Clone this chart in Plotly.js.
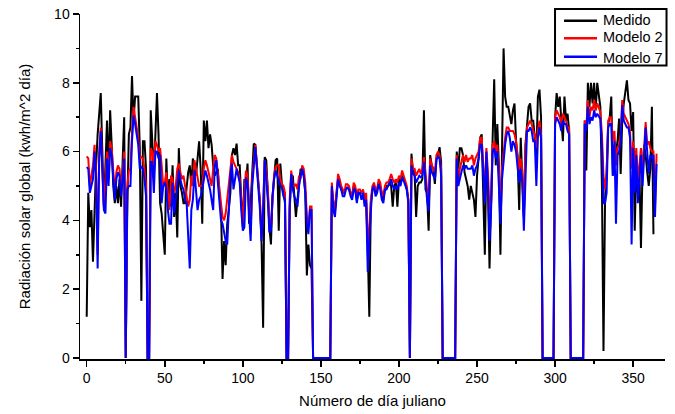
<!DOCTYPE html>
<html>
<head>
<meta charset="utf-8">
<script src="https://cdn.plot.ly/plotly-3.0.1.min.js"></script>
<style>html,body{margin:0;padding:0;background:#fff;}#chart{width:675px;height:414px;}</style>
</head>
<body>
<div id="chart"></div>
<script>
// Day of year (0..365)
const days = Array.from({length: 366}, (_, i) => i);

// Medido (measured)
const medido = [
1.2,4.8,3.8,4.3,2.8,4.3,5.6,6.5,7.2,7.7,
6.0,4.4,5.6,6.9,5.3,7.2,6.2,5.0,4.5,5.0,
4.5,5.2,4.4,5.6,7.0,0,4.5,6.5,6.7,8.2,
6.9,7.6,7.6,7.6,6.1,1.66,6.3,6.3,5.5,0,
0,7.2,6.3,5.3,6.5,7.7,6.5,4.5,4.2,3.6,
3.0,5.8,4.6,5.2,4.4,5.6,4.1,4.8,3.5,6.1,
5.0,4.8,4.5,4.5,5.0,5.4,5.6,5.0,5.8,5.5,
5.3,5.8,6.3,5.5,3.9,6.9,6.3,6.9,6.1,6.5,
6.2,5.6,5.3,5.4,5.5,4.7,4.4,2.3,3.4,2.7,
3.9,4.3,4.8,5.9,6.1,5.9,6.23,5.6,5.6,4.6,
3.8,5.2,5.0,5.65,3.9,4.5,5.4,6.23,6.2,5.6,
5.0,4.5,3.3,0.88,5.84,5.75,4.8,3.8,3.3,4.7,
5.2,5.75,5.8,3.7,5.65,5.06,4.8,4.5,0,0,
4.3,5.26,5.3,4.8,4.1,4.6,5.06,5.5,5.4,5.3,
4.8,2.4,3.3,2.7,2.6,0,0,0,0,0,
0,0,0,0,0,0,0,4.9,4.5,4.3,
4.7,5.2,5.1,4.9,4.8,4.8,4.95,4.95,4.9,4.8,
4.7,5.0,4.9,4.6,4.8,4.8,4.8,4.85,4.6,4.5,
3.2,1.2,4.5,4.9,5.0,4.8,4.9,5.1,5.0,4.8,
4.6,4.9,5.0,5.0,5.1,5.0,4.4,5.0,5.1,4.4,
5.2,5.1,5.3,5.2,5.1,4.9,4.6,0,5.94,5.4,
5.4,4.1,5.0,5.1,5.1,5.2,7.2,4.9,4.8,3.7,
5.9,5.6,5.5,5.06,5.8,5.9,6.13,5.7,0,0,
0,0,0,0,0,0,0,6.0,5.5,6.1,
6.1,5.9,5.4,5.2,5.0,4.6,5.0,4.8,4.6,4.1,
5.3,5.8,6.4,6.5,5.0,3.0,5.8,5.0,2.6,4.8,
6.4,8.1,5.6,6.8,5.6,3.0,6.5,9.0,7.6,7.3,
7.3,7.0,6.8,7.2,7.4,6.3,5.8,4.3,6.4,5.2,
4.1,6.2,6.8,7.3,7.4,6.9,6.9,6.4,5.9,7.6,
7.8,7.0,0,0,0,0,0,0,0,0,
7.0,7.7,7.3,7.6,6.9,6.3,7.6,6.9,7.1,6.6,
0,0,0,0,0,0,0,0,0,6.9,
5.45,8.0,7.3,8.0,7.4,8.0,7.2,8.0,7.6,7.3,
5.0,0.2,4.6,5.4,6.8,7.0,7.6,5.3,6.2,6.0,
6.3,6.96,5.35,6.9,7.4,7.8,8.07,7.5,7.4,6.6,
7.15,3.7,5.6,4.8,5.5,3.2,5.5,6.2,5.9,5.4,
5.0,5.5,7.3,3.6,null,null
];

// Modelo 2
const modelo2 = [
5.86,5.8,5.0,5.3,5.6,6.2,5.4,3.0,6.0,6.7,
5.6,4.4,5.2,6.0,5.2,6.3,6.1,5.3,4.8,5.4,
5.6,5.5,4.9,5.4,6.0,0,5.0,5.45,5.5,6.5,
7.3,7.0,6.7,6.4,5.8,5.84,5.8,5.5,5.0,0,
0,6.1,6.0,5.6,6.3,6.2,6.0,6.1,5.6,5.0,
5.1,5.4,4.8,4.3,5.3,5.2,4.8,5.0,5.5,5.65,
5.4,5.2,5.3,5.0,4.8,4.4,4.6,5.3,5.0,5.75,
5.5,5.2,5.0,5.0,5.0,5.5,5.75,5.6,5.4,5.2,
5.0,5.5,5.9,5.8,5.3,4.9,4.5,4.1,4.0,4.2,
4.6,5.0,5.5,5.9,5.7,5.6,5.5,5.4,5.2,4.5,
3.9,4.8,5.45,5.3,4.5,3.6,5.2,5.8,6.2,5.6,
5.0,4.5,3.5,4.3,5.75,5.45,4.9,4.0,3.8,4.7,
5.3,5.55,5.6,5.6,5.2,5.06,5.0,4.8,0,0,
4.6,5.45,5.0,5.0,5.06,4.9,5.3,5.2,5.6,5.5,
5.1,4.1,3.8,4.4,4.4,0,0,0,0,0,
0,0,0,0,0,0,0,5.1,4.5,4.3,
4.8,5.35,5.2,5.0,4.9,4.8,5.05,5.05,5.0,4.8,
4.7,5.1,5.0,4.7,4.9,4.9,4.8,4.9,4.6,4.8,
3.3,3.8,4.6,5.0,5.1,4.9,4.9,5.2,5.1,4.8,
4.7,5.0,5.1,5.1,5.2,5.35,5.2,5.1,5.2,5.1,
5.3,5.2,5.45,5.3,5.2,5.0,4.6,0,5.8,5.5,
5.5,5.3,5.4,5.5,5.35,5.5,5.84,5.3,4.9,4.6,
5.8,5.6,5.5,5.4,5.9,6.0,5.9,5.5,0,0,
0,0,0,0,0,0,0,5.9,5.1,5.5,
5.75,5.9,5.7,5.9,5.7,5.8,5.8,5.9,5.6,5.8,
5.9,6.0,6.4,6.4,5.6,4.8,6.1,5.4,4.3,4.5,
6.2,6.3,6.0,6.2,5.4,4.3,5.5,6.0,6.4,6.7,
6.7,6.6,6.6,6.6,6.5,6.3,5.9,5.45,5.8,5.45,
4.1,6.0,6.7,6.8,6.9,6.8,6.6,6.5,6.1,6.6,
6.9,6.5,0,0,0,0,0,0,0,0,
7.0,7.2,7.1,7.0,6.8,7.1,7.0,6.9,6.7,6.7,
0,0,0,0,0,0,0,0,0,6.9,
6.7,7.5,7.0,7.3,7.2,7.5,7.2,7.4,7.3,7.15,
6.5,5.3,4.9,5.3,6.9,7.0,7.0,6.3,6.6,5.6,
6.1,6.2,6.5,7.5,7.1,7.0,6.9,6.8,6.6,5.5,
6.3,5.5,6.1,5.2,5.6,6.1,5.3,6.0,6.86,6.2,
6.3,6.1,6.0,6.0,4.4,5.94
];

// Modelo 7
const modelo7 = [
5.55,5.5,4.8,5.0,5.2,6.0,5.2,2.6,5.8,6.6,
5.4,4.3,4.2,5.8,5.0,6.1,5.9,5.1,4.6,5.2,
5.4,5.3,4.7,5.2,5.8,0,4.9,5.0,5.0,6.3,
7.05,6.8,6.5,6.2,5.5,5.55,5.5,5.2,4.7,0,
0,5.7,5.7,4.8,6.0,6.0,5.8,5.9,4.5,5.0,
5.1,4.9,4.3,3.9,3.9,5.1,4.2,4.6,5.0,5.45,
5.2,5.0,4.9,4.6,4.5,3.6,2.6,4.3,4.6,5.45,
4.8,4.3,4.6,4.7,4.9,5.2,5.45,5.3,5.1,4.9,
4.6,4.3,5.6,5.75,5.1,4.6,4.0,3.9,3.6,3.4,
3.3,4.3,5.3,5.65,4.9,5.2,5.5,5.3,5.1,4.3,
3.7,3.8,5.25,5.05,4.0,3.4,5.0,5.6,6.13,5.5,
4.95,4.3,3.4,4.3,5.75,5.25,4.6,3.65,3.7,4.7,
5.2,5.45,5.3,5.2,5.0,4.95,4.7,4.6,0,0,
4.4,5.35,4.9,4.7,4.6,4.4,5.0,5.3,5.5,5.3,
4.8,3.9,3.6,4.3,4.3,0,0,0,0,0,
0,0,0,0,0,0,0,5.0,4.3,4.1,
4.6,5.2,5.0,4.9,4.7,4.7,4.9,4.95,4.9,4.7,
4.6,4.9,4.9,4.5,4.8,4.8,4.6,4.8,4.4,4.6,
2.5,3.5,4.3,4.9,5.0,4.7,4.8,5.05,4.9,4.6,
4.5,4.9,4.9,5.0,5.05,5.2,5.0,4.9,5.0,4.9,
5.1,5.0,5.25,5.15,5.0,4.9,4.5,0,5.6,5.35,
5.3,5.1,5.2,5.3,5.25,5.3,5.7,5.0,4.6,4.27,
5.6,5.4,5.3,5.2,5.75,5.85,5.8,5.3,0,0,
0,0,0,0,0,0,0,5.8,5.0,5.2,
5.4,5.6,5.5,5.6,5.5,5.5,5.5,5.6,5.3,5.5,
5.6,5.8,6.2,6.2,5.3,4.5,6.0,5.0,3.4,4.3,
6.0,6.1,5.8,6.0,5.0,3.9,5.2,5.8,6.2,6.5,
6.6,6.4,6.0,6.3,6.2,6.0,5.6,5.1,5.5,5.1,
3.7,5.6,6.6,6.6,6.7,6.6,6.3,6.3,5.0,6.4,
6.7,6.4,0,0,0,0,0,0,0,0,
6.8,7.0,6.9,6.8,6.6,6.9,6.8,6.8,6.6,6.5,
0,0,0,0,0,0,0,0,0,6.8,
6.6,7.3,6.8,7.0,6.9,7.2,7.0,7.1,7.0,6.95,
6.2,4.5,4.5,4.8,6.7,6.8,6.8,5.3,6.3,3.9,
5.9,6.0,6.3,7.35,6.9,6.8,6.7,6.7,6.4,3.3,
6.1,4.8,5.9,4.5,5.4,5.9,5.0,5.8,6.7,6.0,
5.35,5.9,5.8,5.9,4.1,5.64
];

const seriesNames = ['Medido', 'Modelo 2', 'Modelo 7'];
const xTicks = [0, 50, 100, 150, 200, 250, 300, 350];
const yTicks = [0, 2, 4, 6, 8, 10];

const colors = ['#000000', '#ff0000', '#0000ff'];
const data = [medido, modelo2, modelo7].map((ys, i) => ({
  x: days, y: ys, type: 'scatter', mode: 'lines', name: seriesNames[i],
  line: {color: colors[i], width: 2}, showlegend: false
}));

const fam = 'Liberation Sans, Arial, sans-serif';

// Legend drawn as a boxed key (paper coordinates)
const legX0 = 0.812, legX1 = 1.0026, legY0 = 0.8507, legY1 = 1.0145;
const lineX0 = 0.8274, lineX1 = 0.8838, textX = 0.8906;
const rowY = [0.9806, 0.9296, 0.8762];
const textY = [0.9826, 0.9325, 0.8716];

const shapes = [{
  type: 'rect', xref: 'paper', yref: 'paper', x0: legX0, x1: legX1, y0: legY0, y1: legY1,
  fillcolor: '#fff', line: {color: '#000', width: 2}, layer: 'above'
}];
const annotations = [];
seriesNames.forEach((n, i) => {
  shapes.push({type: 'line', xref: 'paper', yref: 'paper', x0: lineX0, x1: lineX1, y0: rowY[i], y1: rowY[i],
    line: {color: colors[i], width: 2.5}, layer: 'above'});
  annotations.push({xref: 'paper', yref: 'paper', x: textX, y: textY[i], xanchor: 'left', yanchor: 'middle',
    text: n, showarrow: false, font: {family: fam, size: 14.5, color: '#000'}});
});

const layout = {
  width: 675, height: 414,
  margin: {l: 80, r: 10, t: 14, b: 55},
  paper_bgcolor: '#fff', plot_bgcolor: '#fff',
  font: {family: fam, color: '#000', size: 14},
  showlegend: false,
  shapes: shapes,
  annotations: annotations,
  xaxis: {
    range: [-4.3, 370.4], tickmode: 'array', tickvals: xTicks, ticktext: xTicks.map(String),
    ticks: 'outside', ticklen: 6, tickwidth: 1.5, tickcolor: '#000',
    showline: true, linecolor: '#000', linewidth: 1.5, showgrid: false, zeroline: false,
    minor: {dtick: 25, tick0: 0, ticks: 'outside', ticklen: 3, tickwidth: 1.5, tickcolor: '#000', showgrid: false},
    tickfont: {family: fam, size: 14, color: '#000'},
    title: {text: 'Número de día juliano', font: {family: fam, size: 15, color: '#000'}, standoff: 10},
    layer: 'below traces', fixedrange: true
  },
  yaxis: {
    range: [-0.03, 10], tickmode: 'array', tickvals: yTicks, ticktext: yTicks.map(String),
    ticks: 'outside', ticklen: 6, tickwidth: 1.5, tickcolor: '#000',
    showline: true, linecolor: '#000', linewidth: 1.5, showgrid: false, zeroline: false,
    minor: {dtick: 1, tick0: 0, ticks: 'outside', ticklen: 3, tickwidth: 1.5, tickcolor: '#000', showgrid: false},
    tickfont: {family: fam, size: 14, color: '#000'},
    title: {text: 'Radiación solar global (kwh/m^2 día)', font: {family: fam, size: 15, color: '#000'}, standoff: 20},
    layer: 'below traces', fixedrange: true
  }
};

Plotly.newPlot('chart', data, layout, {displayModeBar: false, staticPlot: true});
</script>
</body>
</html>
